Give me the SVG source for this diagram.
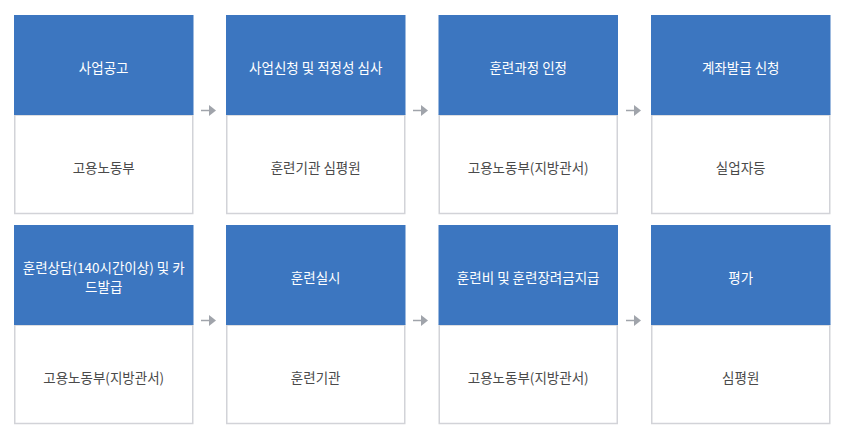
<svg xmlns="http://www.w3.org/2000/svg" width="851" height="440" viewBox="0 0 851 440">
<style>
.hd{fill:#3c76c0}
.bd{fill:#fff;stroke:#d2d3d8;stroke-width:1.5}
text{font-family:"Noto Sans CJK KR","Noto Sans",sans-serif;font-size:13.5px;text-anchor:middle;dominant-baseline:central}
.ht{fill:#fff}
.bt{fill:#4a4a4a}
.arr{stroke:#a0a4ab;stroke-width:1.5;fill:none}
.ah{fill:#a0a4ab}
</style>
<rect width="851" height="440" fill="#fff"/>
<g id="n1"><rect class="bd" x="14.75" y="115" width="178" height="98.5"/><rect class="hd" x="14" y="15" width="179.5" height="100"/><text class="ht" x="103.7" y="67">사업공고</text><text class="bt" x="103.7" y="167">고용노동부</text></g>
<g id="n2"><rect class="bd" x="226.75" y="115" width="178" height="98.5"/><rect class="hd" x="226" y="15" width="179.5" height="100"/><text class="ht" x="315.7" y="67">사업신청 및 적정성 심사</text><text class="bt" x="315.7" y="167">훈련기관 심평원</text></g>
<g id="n3"><rect class="bd" x="439.25" y="115" width="178" height="98.5"/><rect class="hd" x="438.5" y="15" width="179.5" height="100"/><text class="ht" x="528.2" y="67">훈련과정 인정</text><text class="bt" x="528.2" y="167">고용노동부(지방관서)</text></g>
<g id="n4"><rect class="bd" x="651.75" y="115" width="178" height="98.5"/><rect class="hd" x="651" y="15" width="179.5" height="100"/><text class="ht" x="740.7" y="67">계좌발급 신청</text><text class="bt" x="740.7" y="167">실업자등</text></g>
<g id="n5"><rect class="bd" x="14.75" y="325" width="178" height="98.5"/><rect class="hd" x="14" y="225" width="179.5" height="100"/><text class="ht" x="103.7" y="267">훈련상담(140시간이상) 및 카</text><text class="ht" x="103.7" y="286">드발급</text><text class="bt" x="103.7" y="377">고용노동부(지방관서)</text></g>
<g id="n6"><rect class="bd" x="226.75" y="325" width="178" height="98.5"/><rect class="hd" x="226" y="225" width="179.5" height="100"/><text class="ht" x="315.7" y="277">훈련실시</text><text class="bt" x="315.7" y="377">훈련기관</text></g>
<g id="n7"><rect class="bd" x="439.25" y="325" width="178" height="98.5"/><rect class="hd" x="438.5" y="225" width="179.5" height="100"/><text class="ht" x="528.2" y="277">훈련비 및 훈련장려금지급</text><text class="bt" x="528.2" y="377">고용노동부(지방관서)</text></g>
<g id="n8"><rect class="bd" x="651.75" y="325" width="178" height="98.5"/><rect class="hd" x="651" y="225" width="179.5" height="100"/><text class="ht" x="740.7" y="277">평가</text><text class="bt" x="740.7" y="377">심평원</text></g>
<g id="connectors">
<path class="arr" d="M201 110.5H211"/><path class="ah" d="M209 105L216 110.5L209 116Z"/>
<path class="arr" d="M413 110.5H423"/><path class="ah" d="M421 105L428 110.5L421 116Z"/>
<path class="arr" d="M626 110.5H636"/><path class="ah" d="M634 105L641 110.5L634 116Z"/>
<path class="arr" d="M201 320.5H211"/><path class="ah" d="M209 315L216 320.5L209 326Z"/>
<path class="arr" d="M413 320.5H423"/><path class="ah" d="M421 315L428 320.5L421 326Z"/>
<path class="arr" d="M626 320.5H636"/><path class="ah" d="M634 315L641 320.5L634 326Z"/>
</g>
</svg>
